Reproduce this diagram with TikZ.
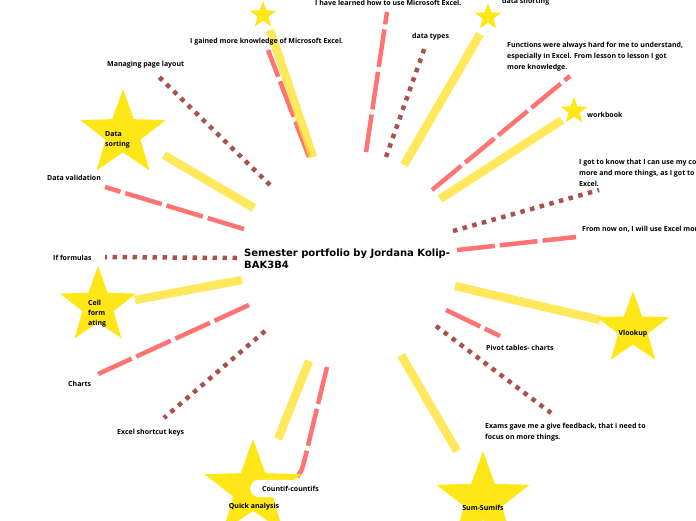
\documentclass[tikz,border=0pt]{standalone}
\usepackage{fontspec}
\setmainfont{Open Sans}
\newfontfamily\titlefont{DejaVu Sans}
\usetikzlibrary{shapes.geometric}
\definecolor{staryellow}{HTML}{FFE617}
\definecolor{lineyellow}{HTML}{FFE22E}
\definecolor{linered}{HTML}{FF7373}
\definecolor{linebrown}{HTML}{A8524B}
\tikzset{
  yel/.style={draw=lineyellow, draw opacity=0.78, line width=8.5pt, line cap=butt},
  redd/.style={draw=linered, line width=4.5pt, dash pattern=on 38pt off 5pt},
  dots/.style={draw=linebrown, line width=4.5pt, dash pattern=on 4.5pt off 5.5pt},
  starshape/.style={star, star points=5, star point ratio=2.45, fill=staryellow, draw=none, inner sep=0pt},
  lbl/.style={font=\fontsize{7}{11}\selectfont\bfseries, inner sep=0pt, anchor=west, align=left, yshift=-1.5pt},
  lblc/.style={font=\fontsize{7}{10}\selectfont\bfseries, inner sep=0pt, align=left, yshift=-1pt},
  ttl/.style={font=\titlefont\fontsize{10}{12}\selectfont\bfseries, inner sep=0pt, anchor=north west, align=left},
}
\begin{document}
\begin{tikzpicture}[x=1pt,y=-1pt]
\useasboundingbox (0,0) rectangle (696,520);
\fill[white] (0,0) rectangle (696,520);

% ---------- coordinates: inner (c) and outer (e) ends ----------
\coordinate (c1y) at (313,157); \coordinate (e1y) at (270,30);
\coordinate (c1r) at (309,157); \coordinate (e1r) at (268,50);
\coordinate (c2) at (366,152);  \coordinate (e2) at (387,12);
\coordinate (c3) at (386,157);  \coordinate (e3) at (426,44);
\coordinate (c4) at (404,165);  \coordinate (e4) at (480,34);
\coordinate (c5) at (432,190);  \coordinate (e5) at (570,76);
\coordinate (c6) at (440,199);  \coordinate (e6) at (562,120);
\coordinate (c7) at (453,231);  \coordinate (e7) at (599,190);
\coordinate (c8) at (457,250);  \coordinate (e8) at (576,237);
\coordinate (c9) at (455,286);  \coordinate (e9) at (600,320);
\coordinate (c10) at (446,310); \coordinate (e10) at (500,336);
\coordinate (c11) at (436,326); \coordinate (e11) at (551,413);
\coordinate (c12) at (401,355); \coordinate (e12) at (457,451);
\coordinate (c13) at (327,367); \coordinate (k13) at (305,458); \coordinate (p13) at (302,470); \coordinate (e13) at (297,477);
\coordinate (c14) at (309,361); \coordinate (e14) at (278,439);
\coordinate (c15) at (265,331); \coordinate (e15) at (164,418);
\coordinate (c16) at (249,305); \coordinate (e16) at (98,374);
\coordinate (c17) at (242,280); \coordinate (e17) at (135,300);
\coordinate (c18) at (237,258); \coordinate (e18) at (105,257);
\coordinate (c19) at (244,229); \coordinate (e19) at (105,187);
\coordinate (c20) at (254,208); \coordinate (e20) at (164,155);
\coordinate (c21) at (270,185); \coordinate (e21) at (156,74);

% ---------- connectors ----------
\draw[redd] (c1r) -- (e1r);
\draw[redd] (c2) -- (e2);
\draw[dots] (c3) -- (e3);
\draw[redd] (c5) -- (e5);
\draw[dots] (c7) -- (e7);
\draw[redd] (c8) -- (e8);
\draw[redd] (c10) -- (e10);
\draw[dots] (c11) -- (e11);
\draw[redd] (c13) -- (k13) .. controls (p13) .. (e13);
\draw[dots] (c15) -- (e15);
\draw[redd] (c16) -- (e16);
\draw[dots] (c18) -- (e18);
\draw[redd] (c19) -- (e19);
\draw[dots] (c21) -- (e21);

\draw[yel] (c1y) -- (e1y);
\draw[yel] (c4) -- (e4);
\draw[yel] (c6) -- (e6);
\draw[yel] (c9) -- (e9);
\draw[yel] (c12) -- (e12);
\draw[yel] (c14) -- (e14);
\draw[yel] (c17) -- (e17);
\draw[yel] (c20) -- (e20);

% ---------- stars ----------
\node[starshape, minimum size=28pt] (s1) at (263,15) {};
\node[starshape, minimum size=28pt] (s2) at (488,17) {};
\node[starshape, minimum size=28pt] (s3) at (574,111) {};
\node[starshape, minimum size=76pt] (s4) at (633,329) {};
\node[starshape, minimum size=98pt] (s5) at (483,500) {};
\node[starshape, minimum size=102pt] (s6) at (253,490) {};
\node[starshape, minimum size=80pt] (s7) at (98,306) {};
\node[starshape, minimum size=90pt] (s8) at (123,134) {};

% ---------- title ----------
\node[ttl] (title) at (244,249) {Semester portfolio by Jordana Kolip-\\BAK3B4};

% ---------- labels ----------
\node[lbl] (l1) at (190,40) {I gained more knowledge of Microsoft Excel.};
\node[lbl] (l2) at (315,1) {I have learned how to use Microsoft Excel.};
\node[lbl] (l3) at (412,35) {data types};
\node[lbl] (l4) at (502,0) {data shorting};
\node[lbl] (l5) at (507,55) {Functions were always hard for me to understand,\\especially in Excel. From lesson to lesson I got\\more knowledge.};
\node[lbl] (l6) at (587,113) {workbook};
\node[lbl] (l7) at (579,171) {I got to know that I can use my computer for\\more and more things, as I got to know\\Excel.};
\node[lbl] (l8) at (582,228) {From now on, I will use Excel more.};
\node[lblc] (l9) at (633,333) {Vlookup};
\node[lbl] (l10) at (486,346) {Pivot tables- charts};
\node[lbl] (l11) at (485,430.5) {Exams gave me a give feedback, that i need to\\focus on more things.};
\node[lblc] (l12) at (483,507) {Sum-Sumifs};
\node[lbl, fill=white, rounded corners=9pt, inner xsep=12pt, inner ysep=6pt] (l13) at (250,487) {Countif-countifs};
\node[lblc] (l14) at (254,506) {Quick analysis};
\node[lbl] (l15) at (117,431) {Excel shortcut keys};
\node[lbl] (l16) at (68,382) {Charts};
\node[lblc, anchor=west] (l17) at (88,313) {Cell\\form\\ating};
\node[lbl] (l18) at (53,256) {If formulas};
\node[lbl] (l19) at (47,176) {Data validation};
\node[lblc, anchor=west] (l20) at (105,139) {Data\\sorting};
\node[lbl] (l21) at (107,63) {Managing page layout};
\end{tikzpicture}
\end{document}
